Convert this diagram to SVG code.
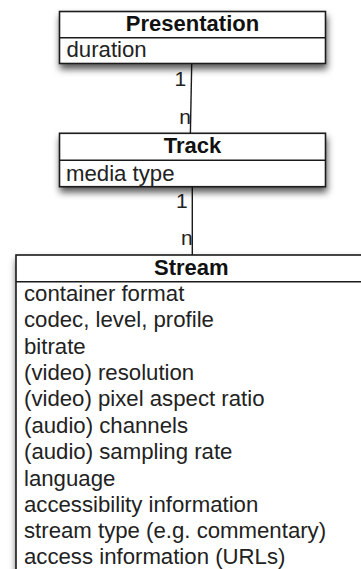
<svg xmlns="http://www.w3.org/2000/svg" width="361" height="569" viewBox="0 0 361 569">
  <style>
    .box { fill: #ffffff; stroke: #1a1a1a; stroke-width: 1.6; }
    .div { stroke: #1a1a1a; stroke-width: 1.6; fill: none; }
    .title { font-family: "Liberation Sans", Arial, sans-serif; font-size: 22px; font-weight: bold; fill: #111111; text-anchor: middle; }
    .attr { font-family: "Liberation Sans", Arial, sans-serif; font-size: 22.2px; fill: #222222; }
    .mult { font-family: "Liberation Sans", Arial, sans-serif; font-size: 21px; fill: #222222; }
    .link { stroke: #1a1a1a; stroke-width: 1.4; fill: none; }
  </style>
  <defs>
    <filter id="shadow" x="-10%" y="-30%" width="125%" height="170%">
      <feDropShadow dx="1" dy="5" stdDeviation="3.5" flood-color="#000000" flood-opacity="0.65"/>
    </filter>
  </defs>

  <rect width="361" height="569" fill="#ffffff"/>

  <!-- associations with multiplicities -->
  <g id="connectors">
    <line class="link" x1="191.7" y1="64" x2="190.4" y2="133"/>
    <text class="mult" x="174.5" y="85.5">1</text>
    <text class="mult" x="179.3" y="124">n</text>

    <line class="link" x1="192.3" y1="187" x2="192.3" y2="255"/>
    <text class="mult" x="176" y="208.3">1</text>
    <text class="mult" x="181" y="245">n</text>
  </g>

  <g id="presentation">
    <rect class="box" x="59.5" y="11.5" width="266" height="52" filter="url(#shadow)"/>
    <line class="div" x1="59.5" y1="37.8" x2="325.5" y2="37.8"/>
    <text class="title" x="192.5" y="31">Presentation</text>
    <text class="attr" x="66.5" y="57.3">duration</text>
  </g>

  <g id="track">
    <rect class="box" x="59.5" y="133.3" width="266" height="53.4" filter="url(#shadow)"/>
    <line class="div" x1="59.5" y1="160.3" x2="325.5" y2="160.3"/>
    <text class="title" x="192.5" y="153.3">Track</text>
    <text class="attr" x="66" y="180.7">media type</text>
  </g>

  <g id="stream">
    <rect class="box" x="16" y="255" width="351" height="330" filter="url(#shadow)"/>
    <line class="div" x1="16" y1="281.7" x2="367" y2="281.7"/>
    <text class="title" x="191.3" y="275">Stream</text>
    <text class="attr" x="24" y="300.7">container format</text>
    <text class="attr" x="24" y="327.1">codec, level, profile</text>
    <text class="attr" x="24" y="353.5">bitrate</text>
    <text class="attr" x="24" y="379.9">(video) resolution</text>
    <text class="attr" x="24" y="406.3">(video) pixel aspect ratio</text>
    <text class="attr" x="24" y="432.7">(audio) channels</text>
    <text class="attr" x="24" y="459.1">(audio) sampling rate</text>
    <text class="attr" x="24" y="485.5">language</text>
    <text class="attr" x="24" y="511.9">accessibility information</text>
    <text class="attr" x="24" y="538.3">stream type (e.g. commentary)</text>
    <text class="attr" x="24" y="564.4">access information (URLs)</text>
  </g>
</svg>
